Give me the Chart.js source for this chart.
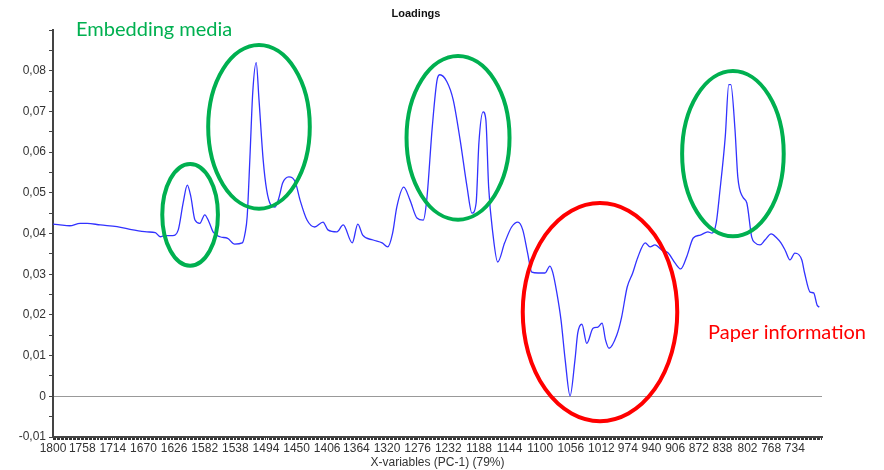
<!DOCTYPE html>
<html>
<head>
<meta charset="utf-8">
<title>Loadings</title>
<script src="https://cdn.jsdelivr.net/npm/chart.js@4.4.1/dist/chart.umd.min.js"></script>
<style>
  html, body { margin: 0; padding: 0; background: #ffffff; }
  #wrap { width: 884px; height: 470px; }
</style>
</head>
<body>
<div id="wrap"><canvas id="chart" width="884" height="470"></canvas></div>
<script>
// Wavenumbers (cm-1) of the plotted variables, high to low
const wavenumbers = [
  1800, 1790, 1776, 1761, 1751, 1732, 1708, 1685, 1665, 1653,
  1646, 1639, 1628, 1620, 1613, 1607, 1602, 1596, 1589, 1582,
  1576, 1570, 1560, 1549, 1539, 1528, 1524, 1521, 1517, 1513,
  1508, 1504, 1498, 1493, 1487, 1481, 1475, 1470, 1461, 1452,
  1445, 1435, 1424, 1412, 1405, 1392, 1383, 1370, 1362, 1355,
  1340, 1327, 1319, 1312, 1306, 1296, 1287, 1277, 1268, 1263,
  1255, 1248, 1244, 1234, 1225, 1215, 1205, 1198, 1192, 1188,
  1182, 1178, 1174, 1168, 1161, 1151, 1141, 1132, 1125, 1118,
  1112, 1103, 1093, 1086, 1082, 1076, 1070, 1064, 1057, 1050,
  1046, 1040, 1033, 1024, 1017, 1011, 1006, 1001, 990, 983,
  975, 967, 960, 949, 942, 935, 925, 916, 906, 898,
  889, 880, 870, 859, 853, 847, 842, 834, 829, 826,
  820, 816, 809, 803, 796, 791, 784, 777, 768, 760,
  754, 748, 741, 734, 724, 720, 712, 707, 702, 699
];

// PC-1 loading for each variable
const loadings = [
  0.0423, 0.0421, 0.0419, 0.0425, 0.0425, 0.0421, 0.0417, 0.0409, 0.0404, 0.0402,
  0.0392, 0.0395, 0.0395, 0.0409, 0.0475, 0.0519, 0.0491, 0.0433, 0.0425, 0.0446,
  0.0429, 0.0404, 0.0392, 0.0388, 0.0374, 0.0377, 0.0401, 0.0441, 0.0588, 0.0746,
  0.0820, 0.0729, 0.0581, 0.0507, 0.0470, 0.0465, 0.0490, 0.0524, 0.0539, 0.0527,
  0.0482, 0.0433, 0.0416, 0.0428, 0.0409, 0.0404, 0.0421, 0.0377, 0.0423, 0.0396,
  0.0384, 0.0377, 0.0367, 0.0401, 0.0465, 0.0514, 0.0482, 0.0438, 0.0433, 0.0482,
  0.0662, 0.0778, 0.0790, 0.0773, 0.0729, 0.0630, 0.0514, 0.0450, 0.0475, 0.0623,
  0.0699, 0.0679, 0.0514, 0.0401, 0.0330, 0.0377, 0.0416, 0.0428, 0.0409, 0.0352,
  0.0305, 0.0303, 0.0303, 0.0320, 0.0305, 0.0254, 0.0187, 0.0089, 0.0001, 0.0089,
  0.0155, 0.0177, 0.0130, 0.0167, 0.0170, 0.0180, 0.0138, 0.0118, 0.0150, 0.0194,
  0.0268, 0.0303, 0.0340, 0.0377, 0.0367, 0.0372, 0.0359, 0.0352, 0.0327, 0.0313,
  0.0345, 0.0389, 0.0396, 0.0404, 0.0401, 0.0426, 0.0500, 0.0638, 0.0766, 0.0766,
  0.0655, 0.0539, 0.0490, 0.0475, 0.0391, 0.0377, 0.0372, 0.0384, 0.0399, 0.0389,
  0.0377, 0.0359, 0.0335, 0.0352, 0.0335, 0.0303, 0.0256, 0.0254, 0.0224, 0.0219
];

// Variable names shown under the x axis
const xTickLabels = [
  1800, 1758, 1714, 1670, 1626, 1582, 1538, 1494, 1450, 1406, 1364, 1320, 1276,
  1232, 1188, 1144, 1100, 1056, 1012, 974, 940, 906, 872, 838, 802, 768, 734
];

// Loading axis range
const yMin = -0.01;
const yMax = 0.09;
const yStep = 0.005;

// Wavenumber range of the x axis
const xHigh = 1800;
const xLow = 695;
const variableSpacing = 1.93;

// Highlighted spectral regions: centre (wavenumber, loading) and half extents
const highlightRegions = [
  { wn: 1603, val: 0.0446, dWn: 40,  dVal: 0.0125, color: '#00B050' },
  { wn: 1504, val: 0.0662, dWn: 73,  dVal: 0.0201, color: '#00B050' },
  { wn: 1218, val: 0.0635, dWn: 74,  dVal: 0.0201, color: '#00B050' },
  { wn: 1014, val: 0.0207, dWn: 111, dVal: 0.0268, color: '#FF0000' },
  { wn: 823,  val: 0.0596, dWn: 73,  dVal: 0.0203, color: '#00B050' }
];

const noteLabels = [
  { text: 'Embedding media',   x: 76,  y: 30,  color: '#00B050' },
  { text: 'Paper information', x: 708, y: 333, color: '#FF0000' }
];

const labelSet = new Set(xTickLabels);

const highlightPlugin = {
  id: 'highlights',
  afterDatasetsDraw(chart) {
    const { ctx, scales: { x, y } } = chart;
    ctx.save();
    highlightRegions.forEach(r => {
      const cx = x.getPixelForValue(r.wn);
      const cy = y.getPixelForValue(r.val);
      const rx = Math.abs(x.getPixelForValue(r.wn - r.dWn) - cx);
      const ry = Math.abs(y.getPixelForValue(r.val + r.dVal) - cy);
      ctx.beginPath();
      ctx.ellipse(cx, cy, rx, ry, 0, 0, Math.PI * 2);
      ctx.lineWidth = 4;
      ctx.strokeStyle = r.color;
      ctx.stroke();
    });
    ctx.font = '20px Lato, "Open Sans", sans-serif';
    ctx.textBaseline = 'middle';
    ctx.textAlign = 'left';
    noteLabels.forEach(n => {
      ctx.fillStyle = n.color;
      ctx.fillText(n.text, n.x, n.y);
    });
    ctx.restore();
  }
};

const headerPlugin = {
  id: 'header',
  afterDraw(chart) {
    const { ctx } = chart;
    ctx.save();
    ctx.font = 'bold 11px "Liberation Sans", Arial, sans-serif';
    ctx.fillStyle = '#111';
    ctx.textAlign = 'center';
    ctx.textBaseline = 'middle';
    ctx.fillText('Loadings', 416, 14);
    ctx.restore();
  }
};

function formatLoading(v) {
  const k = Math.round(v * 1000);
  if (k % 10 !== 0 || k === Math.round(yMax * 1000)) return '';
  if (k === 0) return '0';
  const digits = String(Math.abs(k / 10)).padStart(2, '0');
  return (k < 0 ? '-' : '') + '0,' + digits;
}

const axisFont = { family: '"Liberation Sans", Arial, sans-serif', size: 12 };

new Chart(document.getElementById('chart'), {
  type: 'line',
  data: {
    datasets: [{
      label: 'PC-1',
      data: wavenumbers.map((w, i) => ({ x: w, y: loadings[i] })),
      borderColor: 'rgb(50, 50, 255)',
      borderWidth: 1.3,
      pointRadius: 0,
      fill: false,
      cubicInterpolationMode: 'monotone'
    }]
  },
  options: {
    responsive: false,
    devicePixelRatio: 1,
    animation: false,
    layout: { padding: { left: 0, right: 62, top: 30, bottom: 0 } },
    plugins: {
      legend: { display: false },
      tooltip: { enabled: false },
      title: { display: false }
    },
    scales: {
      x: {
        type: 'linear',
        reverse: true,
        min: xLow,
        max: xHigh,
        afterBuildTicks(axis) {
          const values = new Set(xTickLabels);
          for (let w = xHigh; w >= xLow; w -= variableSpacing) {
            const near = xTickLabels.some(t => Math.abs(t - w) < variableSpacing / 2);
            if (!near) values.add(+w.toFixed(2));
          }
          axis.ticks = [...values].sort((a, b) => a - b).map(v => ({ value: v }));
        },
        afterFit(scale) { scale.height = 33; },
        ticks: {
          autoSkip: false,
          maxRotation: 0,
          minRotation: 0,
          padding: 1,
          color: '#333',
          font: axisFont,
          callback: v => (labelSet.has(v) ? String(v) : '')
        },
        grid: {
          drawOnChartArea: false,
          drawTicks: true,
          tickLength: 3,
          tickColor: '#333',
          tickWidth: 1
        },
        border: { color: '#444', width: 2 },
        title: {
          display: true,
          text: 'X-variables (PC-1) (79%)',
          color: '#333',
          font: axisFont,
          padding: { top: 1, bottom: 0 }
        }
      },
      y: {
        min: yMin,
        max: yMax,
        afterFit(scale) { scale.width = 53; },
        ticks: {
          stepSize: yStep,
          autoSkip: false,
          padding: 3,
          color: '#333',
          font: axisFont,
          callback: formatLoading
        },
        grid: {
          drawOnChartArea: true,
          drawTicks: true,
          tickLength: 4,
          tickColor: '#444',
          color: ctx => (ctx.tick && Math.round(ctx.tick.value * 1000) === 0 ? '#999' : 'rgba(0,0,0,0)'),
          lineWidth: 1
        },
        border: { color: '#444', width: 2 }
      }
    }
  },
  plugins: [highlightPlugin, headerPlugin]
});
</script>
</body>
</html>
